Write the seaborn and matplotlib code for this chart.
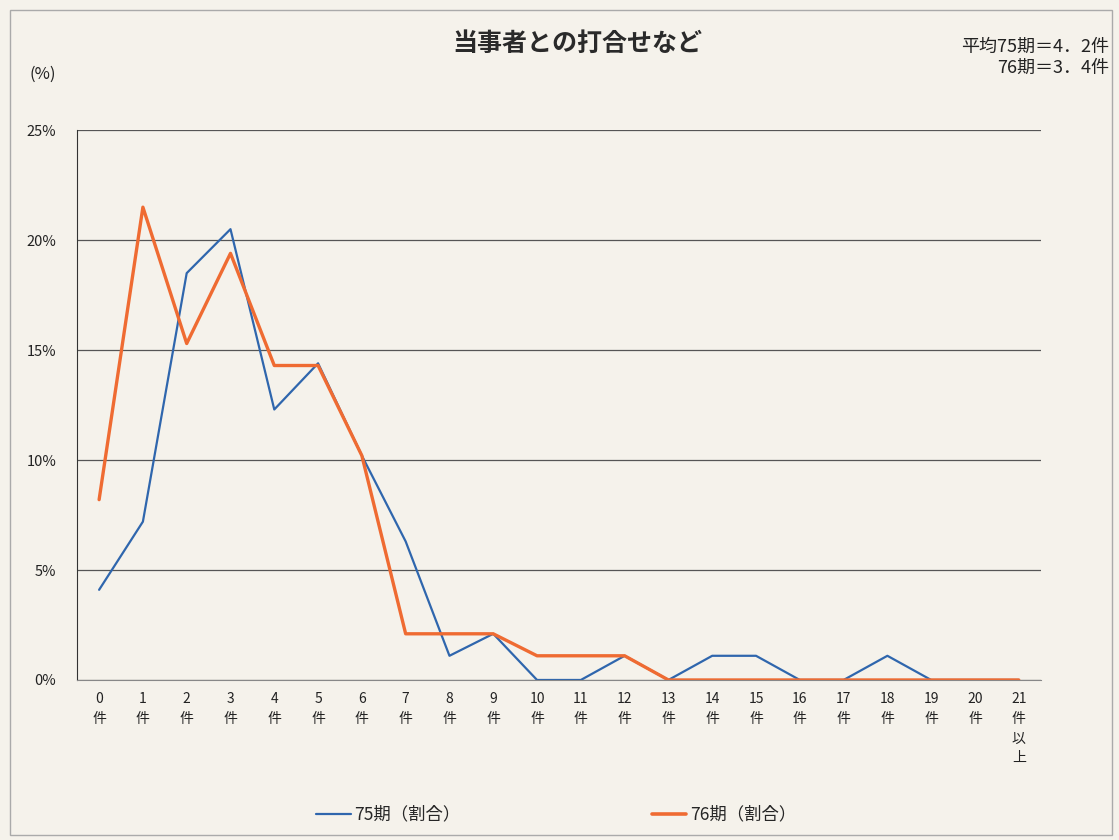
import seaborn as sns
import matplotlib.pyplot as plt
import matplotlib.patches as mpatches
import pandas as pd

# 件数の区分
categories = [f"{i}\n件" for i in range(21)] + ["21\n件\n以\n上"]
# 割合(%)
rate_75 = [4.1, 7.2, 18.5, 20.5, 12.3, 14.4, 10.2, 6.3, 1.1, 2.1, 0, 0, 1.1, 0,
           1.1, 1.1, 0, 0, 1.1, 0, 0, 0]
rate_76 = [8.2, 21.5, 15.3, 19.4, 14.3, 14.3, 10.2, 2.1, 2.1, 2.1, 1.1, 1.1, 1.1, 0,
           0, 0, 0, 0, 0, 0, 0, 0]
series_names = ["75期（割合）", "76期（割合）"]
title = "当事者との打合せなど"
note = "平均75期＝4．2件\n76期＝3．4件"

sns.set_style("white")
plt.rcParams['font.family'] = ['Noto Sans CJK JP', 'DejaVu Sans']

df = pd.DataFrame({
    'pos': list(range(len(categories))) * 2,
    'rate': rate_75 + rate_76,
    'series': [series_names[0]] * len(rate_75) + [series_names[1]] * len(rate_76),
})

paper = '#f5f2eb'
fig = plt.figure(figsize=(11.19, 8.40), dpi=100, facecolor=paper)
ax = fig.add_axes([0.069, 0.1905, 0.861, 0.6545])
ax.set_facecolor(paper)

palette = {series_names[0]: '#2f66ad', series_names[1]: '#ef6b32'}
sns.lineplot(data=df, x='pos', y='rate', hue='series', palette=palette, ax=ax,
             legend=False)
ax.lines[0].set_linewidth(1.6)
ax.lines[1].set_linewidth(2.4)

ax.set_xlim(-0.5, len(categories) - 0.5)
ax.set_ylim(0, 25)
ax.set_yticks([0, 5, 10, 15, 20, 25])
ax.set_yticklabels([f"{v}%" for v in [0, 5, 10, 15, 20, 25]], fontsize=10.5,
                   color='#222222')
ax.set_xticks(range(len(categories)))
ax.set_xticklabels(categories, fontsize=10, linespacing=1.5, va='top', color='#222222')
ax.set_xticks([i - 0.5 for i in range(len(categories) + 1)], minor=True)
ax.tick_params(axis='x', which='major', length=0, pad=9)
ax.tick_params(axis='x', which='minor', length=4, color='#777777', direction='out')
ax.tick_params(axis='y', length=5, color='#333333', pad=10)
ax.set_xlabel('')
ax.set_ylabel('')
ax.grid(axis='y', color='#555555', linewidth=0.9)
ax.grid(axis='x', visible=False)
for s in ['top', 'right']:
    ax.spines[s].set_visible(False)
ax.spines['left'].set_color('#333333')
ax.spines['bottom'].set_color('#888888')

fig.text(0.516, 0.948, title, fontsize=18, fontweight='bold', ha='center', va='center',
         color='#2a2a2a')
fig.text(0.991, 0.932, note, fontsize=13, ha='right', va='center', color='#222222',
         linespacing=1.2)
fig.text(0.038, 0.911, "(%)", fontsize=12, ha='center', va='center', color='#222222')

handles = [plt.Line2D([], [], color=palette[series_names[0]], linewidth=1.6),
           plt.Line2D([], [], color=palette[series_names[1]], linewidth=2.6)]
fig.legend(handles, series_names, loc='center', bbox_to_anchor=(0.497, 0.03), ncol=2,
           frameon=False, fontsize=12.5, columnspacing=11, handlelength=2.0,
           handletextpad=0.2)

fig.add_artist(mpatches.Rectangle((0.009, 0.006), 0.985, 0.982, transform=fig.transFigure,
                                  fill=False, edgecolor='#aaaaaa', linewidth=1))

fig.savefig('out.png', dpi=100, facecolor=paper)
